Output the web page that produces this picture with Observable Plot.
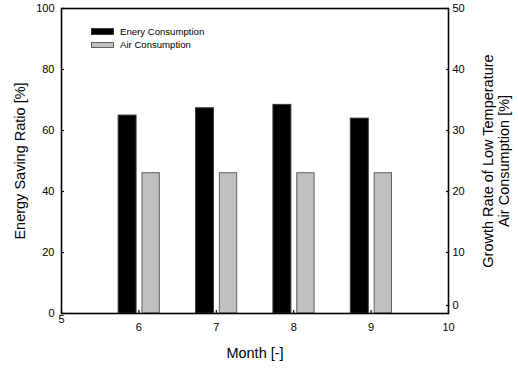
<!DOCTYPE html>
<html>
<head>
<meta charset="utf-8">
<script src="https://cdn.jsdelivr.net/npm/d3@7"></script>
<script src="https://cdn.jsdelivr.net/npm/@observablehq/plot@0.6"></script>
<style>
  html, body { margin: 0; padding: 0; background: #fff; }
  #wrap { position: relative; width: 518px; height: 368px; font-family: "Liberation Sans", Arial, sans-serif; }
  #legend { position: absolute; left: 91px; top: 25px; font-size: 9.6px; color: #000; }
  .row { display: flex; align-items: center; height: 13.3px; }
  .sw { width: 23px; height: 6.5px; margin-right: 6px; box-sizing: border-box; }
</style>
</head>
<body>
<div id="wrap"></div>
<script>
// Data
const months = [6, 7, 8, 9];
const energySaving = [64.9, 67.3, 68.4, 63.9];      // left axis [%]
const airGrowth = [23, 23, 23, 23];                  // right axis [%]
const xTicks = [5, 6, 7, 8, 9, 10];
const leftTicks = [0, 20, 40, 60, 80, 100];
const rightTicks = [0, 10, 20, 30, 40, 50];
const seriesNames = ["Enery Consumption", "Air Consumption"];
const seriesFill = ["#000000", "#c0c0c0"];
const seriesStroke = ["#3a3a3a", "#606060"];

const rows = months.map((m, i) => ({month: m, energy: energySaving[i], air: airGrowth[i]}));
const ratio = 100 / 50; // right axis -> left axis

const font = "Liberation Sans, Arial, sans-serif";
const xFirst = xTicks.slice(0, 1), xRest = xTicks.slice(1);
const rFirst = rightTicks.slice(0, 1), rRest = rightTicks.slice(1);

const chart = Plot.plot({
  width: 518,
  height: 368,
  marginLeft: 61,
  marginRight: 70,
  marginTop: 8,
  marginBottom: 55,
  style: {fontFamily: font, fontSize: "11px", background: "#fff", color: "#000"},
  x: {domain: [5, 10]},
  y: {domain: [0, 100]},
  marks: [
    Plot.rectY(rows, {x1: d => d.month - 0.262, x2: d => d.month - 0.03, y1: 0, y2: "energy",
      fill: seriesFill[0], stroke: seriesStroke[0], strokeWidth: 1}),
    Plot.rectY(rows, {x1: d => d.month + 0.046, x2: d => d.month + 0.27, y1: 0, y2: d => d.air * ratio,
      fill: seriesFill[1], stroke: seriesStroke[1], strokeWidth: 1}),
    Plot.axisX(xRest, {anchor: "bottom", tickSize: -3, tickPadding: 13, label: null, strokeWidth: 1.2}),
    Plot.axisX(xFirst, {anchor: "bottom", tickSize: -3, tickPadding: 5, label: null, strokeWidth: 1.2}),
    Plot.axisY(leftTicks, {anchor: "left", tickSize: -3, tickPadding: 10, label: null, strokeWidth: 1.2}),
    Plot.axisY(rRest.map(d => d * ratio), {anchor: "right", tickSize: -3, tickPadding: 7,
      tickFormat: d => d / ratio, label: null, strokeWidth: 1.2}),
    Plot.axisY(rFirst.map(d => d * ratio), {anchor: "right", tickSize: -3, tickPadding: 7, dy: -8,
      tickFormat: d => d / ratio, label: null, strokeWidth: 1.2}),
    Plot.frame({stroke: "#000", strokeWidth: 1.6}),
    Plot.text(["Month [-]"], {frameAnchor: "bottom", dy: 40, fontSize: 14.5, lineAnchor: "middle", textAnchor: "middle"}),
    Plot.text(["Energy Saving Ratio [%]"], {frameAnchor: "left", dx: -41, rotate: -90, fontSize: 14.5,
      lineAnchor: "middle", textAnchor: "middle"}),
    Plot.text(["Growth Rate of Low Temperature\nAir Consumption [%]"], {frameAnchor: "right", dx: 47, rotate: -90,
      fontSize: 14.5, lineAnchor: "middle", textAnchor: "middle", lineHeight: 1.15})
  ]
});

const wrap = document.getElementById("wrap");
wrap.appendChild(chart);

const legend = document.createElement("div");
legend.id = "legend";
seriesNames.forEach((name, i) => {
  const row = document.createElement("div");
  row.className = "row";
  const sw = document.createElement("div");
  sw.className = "sw";
  sw.style.background = seriesFill[i];
  sw.style.border = "1px solid " + seriesStroke[i];
  const t = document.createElement("span");
  t.textContent = name;
  row.appendChild(sw);
  row.appendChild(t);
  legend.appendChild(row);
});
wrap.appendChild(legend);
</script>
</body>
</html>
